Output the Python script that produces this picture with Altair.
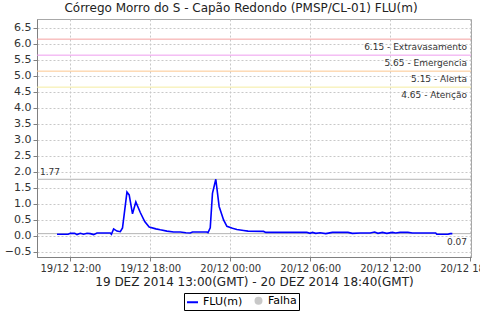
import altair as alt
import pandas as pd

# ---- data ----
times = [
    "2014-12-19T11:00", "2014-12-19T11:50", "2014-12-19T12:00", "2014-12-19T12:20",
    "2014-12-19T12:30", "2014-12-19T12:45", "2014-12-19T13:00", "2014-12-19T13:15",
    "2014-12-19T13:30", "2014-12-19T13:45", "2014-12-19T14:00", "2014-12-19T15:00",
    "2014-12-19T15:05", "2014-12-19T15:15", "2014-12-19T15:30", "2014-12-19T15:45",
    "2014-12-19T15:55", "2014-12-19T16:15", "2014-12-19T16:25", "2014-12-19T16:40",
    "2014-12-19T16:55", "2014-12-19T17:15", "2014-12-19T17:35", "2014-12-19T17:55",
    "2014-12-19T18:25", "2014-12-19T18:45", "2014-12-19T19:15", "2014-12-19T19:45",
    "2014-12-19T20:15", "2014-12-19T20:40", "2014-12-19T21:00", "2014-12-19T21:10",
    "2014-12-19T21:45", "2014-12-19T22:15", "2014-12-19T22:20", "2014-12-19T22:30",
    "2014-12-19T22:40", "2014-12-19T22:55", "2014-12-19T23:10", "2014-12-19T23:30",
    "2014-12-19T23:45", "2014-12-20T00:10", "2014-12-20T00:30", "2014-12-20T01:00",
    "2014-12-20T01:20", "2014-12-20T02:30", "2014-12-20T02:40", "2014-12-20T05:45",
    "2014-12-20T06:00", "2014-12-20T06:10", "2014-12-20T06:25", "2014-12-20T06:45",
    "2014-12-20T07:10", "2014-12-20T07:40", "2014-12-20T08:50", "2014-12-20T09:10",
    "2014-12-20T09:45", "2014-12-20T10:30", "2014-12-20T10:50", "2014-12-20T11:05",
    "2014-12-20T11:25", "2014-12-20T11:45", "2014-12-20T12:10", "2014-12-20T12:25",
    "2014-12-20T12:45", "2014-12-20T13:20", "2014-12-20T13:40", "2014-12-20T15:25",
    "2014-12-20T15:30", "2014-12-20T16:20", "2014-12-20T16:30", "2014-12-20T16:40",
]
flu = [
    0.05, 0.05, 0.08, 0.08,
    0.04, 0.08, 0.05, 0.08,
    0.07, 0.04, 0.09, 0.09,
    0.05, 0.22, 0.15, 0.13,
    0.25, 1.37, 1.28, 0.69,
    1.06, 0.73, 0.45, 0.28,
    0.22, 0.19, 0.15, 0.12,
    0.12, 0.10, 0.09, 0.12,
    0.12, 0.12, 0.10, 0.25,
    1.33, 1.77, 0.92, 0.50,
    0.30, 0.24, 0.20, 0.17,
    0.15, 0.14, 0.11, 0.11,
    0.08, 0.11, 0.08, 0.10,
    0.07, 0.11, 0.11, 0.08,
    0.09, 0.09, 0.12, 0.08,
    0.11, 0.08, 0.11, 0.09,
    0.11, 0.11, 0.09, 0.09,
    0.05, 0.05, 0.07, 0.07,
]

threshold_values = [6.15, 5.65, 5.15, 4.65]
threshold_labels = ["6.15 - Extravasamento", "5.65 - Emergencia", "5.15 - Alerta", "4.65 - Atenção"]
threshold_colors = ["#f4a0a0", "#ee9cee", "#fcc890", "#f4eca0"]

marker_values = [1.77, 0.07]
marker_labels = ["1.77", "0.07"]

legend_items = ["FLU(m)", "Falha"]
legend_colors = ["#0000ff", "#c8c8c8"]
legend_shapes = ["stroke", "circle"]
legend_sizes = [121, 36]

y_ticks = [-0.5, 0.0, 0.5, 1.0, 1.5, 2.0, 2.5, 3.0, 3.5, 4.0, 4.5, 5.0, 5.5, 6.0, 6.5]
x_ticks = [(19, 12), (19, 18), (20, 0), (20, 6), (20, 12), (20, 18)]

title_text = "Córrego Morro do S - Capão Redondo (PMSP/CL-01) FLU(m)"
x_title = "19 DEZ 2014 13:00(GMT) - 20 DEZ 2014 18:40(GMT)"

# ---- tables ----
df = pd.DataFrame({"t": times, "v": flu})
thr = pd.DataFrame({"v": threshold_values, "label": threshold_labels, "c": threshold_colors})
mk_max = pd.DataFrame({"v": [marker_values[0]], "label": [marker_labels[0]]})
mk_last = pd.DataFrame({"v": [marker_values[1]], "label": [marker_labels[1]]})
falha = pd.DataFrame({"t": pd.Series([], dtype="object"), "v": pd.Series([], dtype="float"),
                      "s": pd.Series([], dtype="object")})

W, H = 434, 238

x_scale = alt.Scale(domain=[
    alt.DateTime(year=2014, month=12, date=19, hours=9, minutes=30),
    alt.DateTime(year=2014, month=12, date=20, hours=18, minutes=4),
])
y_scale = alt.Scale(domain=[-0.66, 6.78], nice=False, zero=False)

x_axis = alt.Axis(format="%d/%m %H:%M",
                  values=[alt.DateTime(year=2014, month=12, date=d, hours=h) for d, h in x_ticks],
                  labelOverlap=False, labelBound=False, labelFlush=False, grid=True,
                  title=x_title)
y_axis = alt.Axis(values=y_ticks, format=".1f", title=None, labelOverlap=False, grid=True,
                  labelFontSize=11)

x_enc = alt.X("t:T", scale=x_scale, axis=x_axis)
y_enc = alt.Y("v:Q", scale=y_scale, axis=y_axis)

base_line = alt.Chart(df).mark_line(color="#0000ff", strokeWidth=1.6).encode(x=x_enc, y=y_enc)

thr_rules = alt.Chart(thr).mark_rule(strokeWidth=1).encode(
    y=alt.Y("v:Q", scale=y_scale, axis=y_axis), color=alt.Color("c:N", scale=None))
thr_text = alt.Chart(thr).mark_text(align="right", baseline="middle", dy=8,
                                    fontSize=9, font="DejaVu Sans", color="#333333").encode(
    x=alt.value(W - 4), y=alt.Y("v:Q", scale=y_scale, axis=y_axis), text="label:N")

mk_rules = alt.Chart(pd.DataFrame({"v": marker_values})).mark_rule(
    color="#b4b4b4", strokeWidth=1).encode(y=alt.Y("v:Q", scale=y_scale, axis=y_axis))
mk_text_max = alt.Chart(mk_max).mark_text(align="left", baseline="middle", dy=-7,
                                          fontSize=9, font="DejaVu Sans", color="#333333").encode(
    x=alt.value(3), y=alt.Y("v:Q", scale=y_scale, axis=y_axis), text="label:N")
mk_text_last = alt.Chart(mk_last).mark_text(align="right", baseline="middle", dy=8,
                                            fontSize=9, font="DejaVu Sans", color="#333333").encode(
    x=alt.value(W - 4), y=alt.Y("v:Q", scale=y_scale, axis=y_axis), text="label:N")

leg = alt.Legend(title=None, orient="none", legendX=147, legendY=274, direction="horizontal",
                 strokeColor="black", padding=2, labelFontSize=11, labelFont="DejaVu Sans",
                 labelColor="#000000", symbolStrokeWidth=2, columnPadding=8, labelOffset=4)
legend_layer = alt.Chart(falha).mark_point(filled=True, opacity=1).encode(
    x=alt.X("t:T", scale=x_scale, axis=x_axis),
    y=alt.Y("v:Q", scale=y_scale, axis=y_axis),
    stroke=alt.Stroke("s:N", scale=alt.Scale(domain=legend_items, range=legend_colors), legend=leg),
    fill=alt.Fill("s:N", scale=alt.Scale(domain=legend_items, range=legend_colors), legend=leg),
    shape=alt.Shape("s:N", scale=alt.Scale(domain=legend_items, range=legend_shapes), legend=leg),
    size=alt.Size("s:N", scale=alt.Scale(domain=legend_items, range=legend_sizes), legend=leg),
)

chart = alt.layer(
    thr_rules, mk_rules, thr_text, mk_text_max, mk_text_last, base_line, legend_layer
).properties(
    width=W, height=H,
    title=alt.TitleParams(title_text, fontSize=12, font="DejaVu Sans", fontWeight="normal",
                          anchor="middle", offset=4, dx=-13, color="#222222"),
    autosize=alt.AutoSizeParams(type="none"),
    padding={"left": 37, "top": 19, "right": 9, "bottom": 63},
    background="white",
).configure_view(
    stroke="#a8a8a8"
).configure_axis(
    labelFont="DejaVu Sans", labelFontSize=10, labelColor="#333333", labelOverlap=False,
    titleFont="DejaVu Sans", titleFontSize=12, titleFontWeight="normal", titleColor="#222222",
    tickColor="#808080", domainColor="#808080", tickSize=4, labelPadding=2,
    gridColor="#c8c8c8", gridDash=[2, 2], titlePadding=3,
)

chart.save("out.html", embed_options={"renderer": "svg", "actions": False})
